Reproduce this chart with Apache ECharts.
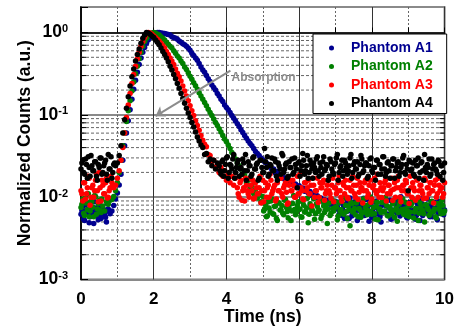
<!DOCTYPE html>
<html>
<head>
<meta charset="utf-8">
<script src="https://cdn.jsdelivr.net/npm/echarts@6/dist/echarts.min.js"></script>
<style>
html,body{margin:0;padding:0;background:#fff;}
#chart{width:457px;height:334px;}
</style>
</head>
<body>
<div id="chart"></div>
<script>
// ---- data (time in ns, normalized counts) ----
const times = [
0,0.05,0.1,0.15,0.2,0.25,0.3,0.35,0.4,0.45,0.5,0.55,0.6,0.65,0.7,0.75,0.8,0.85,0.9,0.95,
1,1.05,1.1,1.15,1.2,1.25,1.3,1.35,1.4,1.45,1.5,1.55,1.6,1.65,1.7,1.75,1.8,1.85,1.9,1.95,
2,2.05,2.1,2.15,2.2,2.25,2.3,2.35,2.4,2.45,2.5,2.55,2.6,2.65,2.7,2.75,2.8,2.85,2.9,2.95,
3,3.05,3.1,3.15,3.2,3.25,3.3,3.35,3.4,3.45,3.5,3.55,3.6,3.65,3.7,3.75,3.8,3.85,3.9,3.95,
4,4.05,4.1,4.15,4.2,4.25,4.3,4.35,4.4,4.45,4.5,4.55,4.6,4.65,4.7,4.75,4.8,4.85,4.9,4.95,
5,5.05,5.1,5.15,5.2,5.25,5.3,5.35,5.4,5.45,5.5,5.55,5.6,5.65,5.7,5.75,5.8,5.85,5.9,5.95,
6,6.05,6.1,6.15,6.2,6.25,6.3,6.35,6.4,6.45,6.5,6.55,6.6,6.65,6.7,6.75,6.8,6.85,6.9,6.95,
7,7.05,7.1,7.15,7.2,7.25,7.3,7.35,7.4,7.45,7.5,7.55,7.6,7.65,7.7,7.75,7.8,7.85,7.9,7.95,
8,8.05,8.1,8.15,8.2,8.25,8.3,8.35,8.4,8.45,8.5,8.55,8.6,8.65,8.7,8.75,8.8,8.85,8.9,8.95,
9,9.05,9.1,9.15,9.2,9.25,9.3,9.35,9.4,9.45,9.5,9.55,9.6,9.65,9.7,9.75,9.8,9.85,9.9,9.95,
10];

// interleaved channels (background-only readings; skipped where the curve is already covered)
const timesMid = [
0.025,0.075,0.125,0.175,0.225,0.275,0.325,0.375,0.425,0.475,0.525,0.575,0.625,0.675,0.725,0.775,0.825,0.875,0.925,0.975,
1.025,1.075,1.125,1.175,1.225,1.275,1.325,1.375,1.425,1.475,1.525,1.575,1.625,1.675,1.725,1.775,1.825,1.875,1.925,1.975,
2.025,2.075,2.125,2.175,2.225,2.275,2.325,2.375,2.425,2.475,2.525,2.575,2.625,2.675,2.725,2.775,2.825,2.875,2.925,2.975,
3.025,3.075,3.125,3.175,3.225,3.275,3.325,3.375,3.425,3.475,3.525,3.575,3.625,3.675,3.725,3.775,3.825,3.875,3.925,3.975,
4.025,4.075,4.125,4.175,4.225,4.275,4.325,4.375,4.425,4.475,4.525,4.575,4.625,4.675,4.725,4.775,4.825,4.875,4.925,4.975,
5.025,5.075,5.125,5.175,5.225,5.275,5.325,5.375,5.425,5.475,5.525,5.575,5.625,5.675,5.725,5.775,5.825,5.875,5.925,5.975,
6.025,6.075,6.125,6.175,6.225,6.275,6.325,6.375,6.425,6.475,6.525,6.575,6.625,6.675,6.725,6.775,6.825,6.875,6.925,6.975,
7.025,7.075,7.125,7.175,7.225,7.275,7.325,7.375,7.425,7.475,7.525,7.575,7.625,7.675,7.725,7.775,7.825,7.875,7.925,7.975,
8.025,8.075,8.125,8.175,8.225,8.275,8.325,8.375,8.425,8.475,8.525,8.575,8.625,8.675,8.725,8.775,8.825,8.875,8.925,8.975,
9.025,9.075,9.125,9.175,9.225,9.275,9.325,9.375,9.425,9.475,9.525,9.575,9.625,9.675,9.725,9.775,9.825,9.875,9.925,9.975];

const phantomA1 = [
0.0062,0.0078,0.0052,0.0070,0.0085,0.0058,0.0066,0.0048,0.0074,0.0060,0.0081,0.0055,0.0068,0.0063,0.0050,0.0072,
0.0063,0.0068,0.0079,0.0095,0.0112,0.0141,0.019,0.028,0.042,0.06,0.085,0.115,0.155,0.204,0.263,0.33,0.41,0.49,0.575,0.66,
0.74,0.81,0.87,0.93,0.965,0.99,1.0,1.0,0.99,0.98,0.975,0.96,0.945,0.93,0.89,0.87,0.85,0.83,0.79,0.76,
0.73,0.71,0.68,0.65,0.61,0.56,0.525,0.49,0.46,0.42,0.38,0.35,0.33,0.30,0.275,0.255,0.23,0.215,0.2,0.182,
0.17,0.155,0.145,0.132,0.123,0.115,0.107,0.098,0.091,0.084,0.078,0.072,0.066,0.061,0.056,0.052,0.048,0.045,0.042,0.039,
0.036,0.034,0.032,0.030,0.0285,0.027,0.026,0.0235,0.024,0.0215,0.022,0.0195,0.0205,0.0178,0.0188,0.0168,0.0172,0.0158,0.0162,0.0149,
0.0152,0.0139,0.0145,0.0133,0.0138,0.0124,0.0129,0.0118,0.012,0.0112,0.0117,0.0105,0.011,0.0099,0.0104,0.0094,0.0098,0.0089,0.0093,0.0085,
0.0091,0.0082,0.0088,0.0079,0.0089,
0.0076,0.0062,0.0090,0.0070,0.0055,0.0083,0.0068,0.0098,0.0059,0.0079,
0.0072,0.0052,0.0086,0.0065,0.0077,0.0060,0.0094,0.0069,0.0081,0.0057,
0.0074,0.0088,0.0063,0.0071,0.0050,0.0084,0.0067,0.0078,0.0061,0.0092,
0.0070,0.0056,0.0082,0.0066,0.0075,0.0101,0.0064,0.0080,0.0058,0.0073,
0.0087,0.0062,0.0069,0.0054,0.0083,0.0071,0.0095,0.0060,0.0077,0.0066,
0.0079,0.0058,0.0085,0.0068,0.0074,0.0053,0.0089,0.0065,0.0076,0.0070];

const phantomA2 = [
0.0075,0.0095,0.006,0.0085,0.011,0.0068,0.0088,0.0058,0.0102,0.0072,0.0092,0.0065,
0.0078,0.0068,0.0088,0.0082,0.0092,0.0094,0.0102,0.012,0.0151,0.02,0.028,0.042,0.06,0.083,0.112,0.148,0.195,0.25,
0.316,0.39,0.48,0.575,0.68,0.78,0.85,0.91,0.955,0.99,1.0,0.99,0.955,0.93,0.89,0.85,0.81,0.76,0.72,0.68,
0.65,0.6,0.56,0.52,0.49,0.45,0.42,0.38,0.355,0.325,0.295,0.27,0.245,0.225,0.204,0.186,0.17,0.155,0.141,0.129,
0.117,0.107,0.098,0.089,0.081,0.074,0.068,0.062,0.056,0.051,0.047,0.043,0.039,0.035,0.032,0.029,0.026,0.024,0.022,0.019,
0.0185,0.015,0.016,0.0128,0.014,0.011,0.0125,0.0098,0.011,0.0088,0.0102,
0.0072,0.0058,0.0088,0.0066,0.0095,0.0062,0.0078,0.0052,0.0085,0.0070,
0.0064,0.0092,0.0075,0.0056,0.0082,0.0068,0.0105,0.0061,0.0079,0.0071,
0.0058,0.0087,0.0066,0.0074,0.0049,0.0083,0.0069,0.0096,0.0063,0.0077,
0.0070,0.0055,0.0089,0.0065,0.0081,0.0072,0.0060,0.0093,0.0068,0.0076,
0.0053,0.0086,0.0071,0.0064,0.0098,0.0067,0.0078,0.0045,0.0083,0.0070,
0.0061,0.0090,0.0073,0.0057,0.0084,0.0066,0.0079,0.0069,0.0101,0.0062,
0.0075,0.0054,0.0087,0.0071,0.0065,0.0093,0.0068,0.0080,0.0059,0.0074,
0.0063,0.0088,0.0070,0.0051,0.0082,0.0067,0.0095,0.0072,0.0060,0.0078,
0.0066,0.0085,0.0056,0.0073,0.0091,0.0064,0.0077,0.0069,0.0050,0.0081,
0.0071,0.0062,0.0089,0.0067,0.0058,0.0084,0.0074,0.0063,0.0079,0.0068];

const phantomA3 = [
0.012,0.009,0.015,0.011,0.018,0.008,0.013,0.010,0.016,0.012,0.020,0.009,0.014,0.011,0.017,0.010,0.013,0.015,
0.013,0.014,0.017,0.021,0.028,0.04,0.06,0.093,0.132,0.182,0.24,0.31,0.39,0.48,0.575,0.68,0.78,0.87,0.955,1.0,
0.99,0.955,0.91,0.87,0.83,0.79,0.74,0.69,0.65,0.59,0.54,0.49,0.45,0.41,0.36,0.32,0.29,0.257,0.224,0.195,
0.17,0.148,0.129,0.112,0.098,0.085,0.074,0.065,0.056,0.049,0.044,0.041,0.033,0.032,0.027,0.028,0.023,0.024,0.020,0.023,
0.018,0.021,0.016,0.019,0.015,0.018,0.014,0.017,
0.013,0.010,0.016,0.012,0.009,0.014,0.011,0.017,0.012,0.0095,
0.015,0.011,0.013,0.0085,0.016,0.012,0.010,0.014,0.019,0.011,
0.013,0.009,0.015,0.012,0.017,0.010,0.014,0.0115,0.0085,0.016,
0.012,0.014,0.010,0.018,0.011,0.013,0.0095,0.015,0.012,0.016,
0.011,0.0078,0.014,0.012,0.017,0.010,0.013,0.015,0.0092,0.012,
0.016,0.011,0.014,0.0088,0.013,0.012,0.018,0.010,0.015,0.011,
0.013,0.0096,0.016,0.012,0.014,0.010,0.017,0.0115,0.013,0.0085,
0.015,0.012,0.011,0.016,0.0095,0.014,0.012,0.019,0.010,0.013,
0.012,0.015,0.009,0.014,0.011,0.017,0.0125,0.010,0.016,0.013,
0.0088,0.014,0.012,0.015,0.011,0.018,0.010,0.013,0.0092,0.016,
0.012,0.014,0.011,0.017,0.0098,0.013,0.015,0.012,0.0085,0.016,
0.011,0.014,0.013,0.010,0.015];

const phantomA4 = [
0.022,0.028,0.019,0.025,0.031,0.018,0.024,0.021,0.027,0.016,0.023,0.030,0.020,0.026,0.019,0.033,0.022,0.017,0.025,
0.024,0.026,0.032,0.042,0.06,0.087,0.12,0.166,0.224,0.29,0.36,0.45,0.54,0.63,0.74,0.85,0.93,1.0,0.99,0.955,
0.91,0.87,0.81,0.76,0.71,0.65,0.59,0.54,0.49,0.44,0.39,0.35,0.31,0.275,0.24,0.21,0.182,0.158,0.138,0.12,
0.105,0.093,0.081,0.071,0.062,0.054,0.048,0.043,0.040,0.033,0.034,0.027,0.029,0.024,0.028,0.022,0.026,
0.024,0.019,0.028,0.021,0.030,0.017,0.025,0.022,0.033,0.020,
0.026,0.018,0.023,0.029,0.021,0.016,0.027,0.024,0.019,0.031,
0.022,0.026,0.017,0.028,0.020,0.039,0.023,0.018,0.025,0.030,
0.021,0.027,0.016,0.024,0.019,0.032,0.022,0.026,0.018,0.023,
0.029,0.020,0.025,0.013,0.027,0.021,0.034,0.019,0.024,0.017,
0.028,0.022,0.026,0.020,0.031,0.018,0.023,0.027,0.021,0.025,
0.016,0.029,0.022,0.019,0.026,0.033,0.020,0.024,0.018,0.028,
0.023,0.021,0.030,0.017,0.025,0.022,0.027,0.019,0.032,0.020,
0.024,0.026,0.018,0.029,0.021,0.023,0.016,0.028,0.025,0.019,
0.031,0.022,0.020,0.027,0.017,0.024,0.029,0.021,0.026,0.018,
0.023,0.030,0.020,0.025,0.012,0.027,0.022,0.019,0.028,0.024,
0.017,0.026,0.021,0.033,0.020,0.023,0.018,0.029,0.025,0.022,
0.019,0.027,0.024,0.016,0.026];

// background readings at the interleaved channels: [early part], [number of curve channels skipped], [late part]
const phantomA1MidEarly = [0.0069,0.0054,0.0081,0.0064,0.0049,0.0076,0.0059,0.0088,0.0066,0.0053,0.0079,0.0062,0.0071,0.0057,0.0083,0.0067];
const phantomA1MidSkip = 125;
const phantomA1MidLate = [
0.0071,0.0085,0.0060,0.0078,0.0066,0.0093,0.0055,0.0074,0.0063,0.0088,
0.0069,0.0080,0.0057,0.0072,0.0097,0.0064,0.0076,0.0051,0.0082,0.0068,
0.0061,0.0090,0.0073,0.0058,0.0079,0.0067,0.0086,0.0062,0.0075,0.0054,
0.0084,0.0070,0.0065,0.0092,0.0059,0.0077,0.0068,0.0081,0.0056,0.0073,
0.0063,0.0089,0.0071,0.0060,0.0078,0.0052,0.0083,0.0067,0.0074,0.0095,
0.0062,0.0076,0.0058,0.0087,0.0069,0.0064,0.0080,0.0072,0.0061];

const phantomA2MidEarly = [0.0082,0.0064,0.0098,0.0071,0.0058,0.0090,0.0076,0.0105,0.0062,0.0084,0.0069,0.0095];
const phantomA2MidSkip = 88;
const phantomA2MidLate = [
0.0068,0.0081,0.0059,0.0074,0.0090,0.0063,0.0077,0.0055,0.0086,0.0070,
0.0079,0.0061,0.0094,0.0067,0.0073,0.0052,0.0084,0.0071,0.0065,0.0088,
0.0072,0.0057,0.0080,0.0066,0.0097,0.0062,0.0075,0.0069,0.0054,0.0083,
0.0067,0.0091,0.0060,0.0078,0.0070,0.0048,0.0085,0.0064,0.0073,0.0089,
0.0076,0.0059,0.0068,0.0093,0.0062,0.0080,0.0055,0.0071,0.0087,0.0066,
0.0073,0.0085,0.0058,0.0070,0.0064,0.0096,0.0075,0.0061,0.0082,0.0067,
0.0090,0.0063,0.0078,0.0053,0.0072,0.0086,0.0066,0.0099,0.0060,0.0076,
0.0069,0.0083,0.0057,0.0074,0.0065,0.0092,0.0071,0.0062,0.0087,0.0068,
0.0058,0.0079,0.0094,0.0066,0.0073,0.0052,0.0085,0.0070,0.0063,0.0081,
0.0075,0.0060,0.0088,0.0067,0.0072,0.0056,0.0083,0.0069,0.0091,0.0064];

const phantomA3MidEarly = [0.011,0.015,0.0095,0.013,0.017,0.010,0.014,0.012,0.019,0.0088,0.013,0.016,0.011,0.015,0.0098,0.012,0.018,0.014];
const phantomA3MidSkip = 68;
const phantomA3MidLate = [
0.011,0.015,0.0092,0.013,0.017,0.012,0.010,0.014,0.016,0.0098,
0.013,0.011,0.018,0.012,0.0088,0.015,0.013,0.010,0.016,0.012,
0.014,0.0095,0.012,0.017,0.011,0.013,0.015,0.0082,0.014,0.012,
0.016,0.010,0.013,0.011,0.019,0.012,0.0093,0.015,0.013,0.011,
0.014,0.017,0.010,0.012,0.0086,0.015,0.013,0.016,0.011,0.014,
0.012,0.0097,0.017,0.013,0.011,0.015,0.012,0.0089,0.014,0.016,
0.010,0.013,0.012,0.018,0.011,0.014,0.0094,0.015,0.013,0.012,
0.016,0.010,0.014,0.0087,0.013,0.017,0.011,0.012,0.015,0.0099,
0.013,0.016,0.011,0.014,0.012,0.0091,0.015,0.013,0.018,0.010,
0.012,0.014,0.016,0.011,0.0084,0.013,0.015,0.012,0.017,0.010,
0.014,0.012,0.0096,0.016,0.013,0.011,0.015,0.012,0.014,0.010,
0.017,0.012,0.013,0.011];

const phantomA4MidEarly = [0.026,0.020,0.029,0.017,0.023,0.032,0.021,0.027,0.018,0.025,0.030,0.019,0.024,0.028,0.016,0.022,0.031,0.020,0.026];
const phantomA4MidSkip = 57;
const phantomA4MidLate = [
0.021,0.027,0.018,0.025,0.031,0.020,0.024,0.029,0.017,0.023,
0.028,0.022,0.019,0.026,0.033,0.021,0.024,0.018,0.030,0.022,
0.025,0.016,0.028,0.023,0.020,0.027,0.031,0.019,0.024,0.021,
0.029,0.018,0.026,0.022,0.034,0.020,0.025,0.017,0.027,0.023,
0.019,0.030,0.022,0.026,0.018,0.024,0.028,0.021,0.032,0.020,
0.025,0.017,0.023,0.029,0.021,0.026,0.019,0.031,0.022,0.024,
0.018,0.027,0.020,0.025,0.030,0.016,0.023,0.028,0.021,0.026,
0.019,0.024,0.033,0.020,0.027,0.022,0.018,0.025,0.029,0.021,
0.026,0.017,0.024,0.030,0.020,0.023,0.028,0.019,0.025,0.022,
0.031,0.018,0.026,0.021,0.024,0.029,0.017,0.023,0.027,0.020,
0.025,0.032,0.019,0.022,0.028,0.021,0.026,0.018,0.024,0.030,
0.020,0.027,0.016,0.023,0.025,0.029,0.019,0.022,0.026,0.021,
0.028,0.018,0.024,0.020];

const seriesNames = ['Phantom A1','Phantom A2','Phantom A3','Phantom A4'];
const seriesValues = [phantomA1, phantomA2, phantomA3, phantomA4];
const seriesMid = [
  [phantomA1MidEarly, phantomA1MidSkip, phantomA1MidLate],
  [phantomA2MidEarly, phantomA2MidSkip, phantomA2MidLate],
  [phantomA3MidEarly, phantomA3MidSkip, phantomA3MidLate],
  [phantomA4MidEarly, phantomA4MidSkip, phantomA4MidLate]
];
const seriesColors = ['#000090','#008000','#ff0000','#000000'];
const yDecades = [-3,-2,-1,0];          // tick exponents (10^n)
const minorMultipliers = [2,3,4,5,6,7,8,9];
const xTicks = [0,2,4,6,8,10];
const annotationText = 'Absorption';

// ---- chart ----
const FONT = '"Liberation Sans", Arial, Helvetica, sans-serif';
const chart = echarts.init(document.getElementById('chart'), null, {renderer:'canvas'});

const minorLogs = [];
for (let d = -3; d < 0; d++) {
  minorMultipliers.forEach(m => minorLogs.push([0, Math.log10(m * Math.pow(10, d))]));
}

function buildPoints(k) {
  const pts = times.map((t, i) => [t, Math.log10(seriesValues[k][i])]);
  const [early, skip, late] = seriesMid[k];
  early.forEach((v, j) => pts.push([timesMid[j], Math.log10(v)]));
  late.forEach((v, j) => pts.push([timesMid[early.length + skip + j], Math.log10(v)]));
  return pts;
}

const scatterSeries = seriesNames.map((name, k) => ({
  type: 'scatter',
  name: name,
  data: buildPoints(k),
  symbol: 'circle',
  symbolSize: 5.5,
  itemStyle: {color: seriesColors[k], opacity: 1},
  silent: true,
  z: 2,
  animation: false
}));

const option = {
  animation: false,
  backgroundColor: '#fff',
  textStyle: {fontFamily: FONT},
  grid: {left: 81, right: 7, top: 7, bottom: 54.5, show: true, borderColor: '#000', borderWidth: 1.5, backgroundColor: '#fff'},
  xAxis: {
    type: 'value', min: xTicks[0], max: xTicks[xTicks.length-1], interval: 2,
    axisLine: {show: true, lineStyle: {color: '#000', width: 1.5}},
    axisTick: {show: true, inside: true, length: 5, lineStyle: {color: '#000'}},
    minorTick: {show: true, splitNumber: 2, length: 5, lineStyle: {color: '#000'}},
    axisLabel: {margin: 11, fontSize: 17, fontWeight: 'bold', color: '#000', fontFamily: FONT},
    splitLine: {show: true, lineStyle: {color: '#333', width: 1}},
    minorSplitLine: {show: true, lineStyle: {color: '#666', width: 1, type: [2, 2]}},
    name: 'Time (ns)', nameLocation: 'middle', nameGap: 29, nameMoveOverlap: false,
    nameTextStyle: {fontSize: 17.5, fontWeight: 'bold', color: '#000', fontFamily: FONT}
  },
  yAxis: {
    type: 'value', min: yDecades[0], max: 0.31, interval: 1,
    axisLine: {show: true, lineStyle: {color: '#000', width: 1.5}},
    axisTick: {show: true, inside: true, length: 7, lineStyle: {color: '#000'}},
    axisLabel: {
      margin: 13,
      formatter: v => (Number.isInteger(v) && yDecades.indexOf(v) >= 0) ? '{b|10}{s|' + v + '}' : '',
      rich: {
        b: {fontSize: 17.5, fontWeight: 'bold', color: '#000', fontFamily: FONT},
        s: {fontSize: 11, fontWeight: 'bold', color: '#000', fontFamily: FONT, verticalAlign: 'top'}
      }
    },
    splitLine: {show: true, lineStyle: {color: '#8a8a8a', width: 2}},
    name: 'Normalized Counts (a.u.)', nameLocation: 'middle', nameGap: 47, nameMoveOverlap: false,
    nameTextStyle: {fontSize: 17.5, fontWeight: 'bold', color: '#000', fontFamily: FONT}
  },
  legend: {
    orient: 'vertical', left: 313, top: 34,
    padding: [7, 14, 3, 16],
    itemWidth: 29, itemHeight: 5, itemGap: 4.5,
    icon: 'circle',
    backgroundColor: '#fff', borderColor: '#000', borderWidth: 1,
    selectedMode: false,
    textStyle: {fontSize: 14, fontWeight: 'bold', fontFamily: FONT},
    data: seriesNames.map((n, k) => ({name: n, textStyle: {color: seriesColors[k]}}))
  },
  series: [
    {
      type: 'custom', name: 'minorGrid', silent: true, z: 1,
      data: minorLogs,
      encode: {x: 0, y: 1},
      renderItem: (params, api) => {
        const v = api.value(1);
        const p0 = api.coord([0, v]);
        const p1 = api.coord([10, v]);
        return {type: 'group', children: [
          {type: 'line', shape: {x1: p0[0], y1: p0[1], x2: p1[0], y2: p1[1]}, style: {stroke: '#666', lineWidth: 1, lineDash: [3, 2]}},
          {type: 'line', shape: {x1: p0[0], y1: p0[1], x2: p0[0] + 5, y2: p0[1]}, style: {stroke: '#000', lineWidth: 1}},
          {type: 'line', shape: {x1: p1[0] - 5, y1: p1[1], x2: p1[0], y2: p1[1]}, style: {stroke: '#000', lineWidth: 1}}
        ]};
      }
    },
    ...scatterSeries,
    {
      type: 'line', name: 'annotation', data: [], z: 6, silent: true,
      markLine: {
        silent: true, animation: false,
        symbol: ['none', 'arrow'], symbolSize: 9,
        lineStyle: {color: '#8c8c8c', width: 2, type: 'solid'},
        label: {show: false},
        data: [[{coord: [4.11, -0.463]}, {coord: [2.05, -1.016]}]]
      },
      markPoint: {
        silent: true, animation: false,
        symbol: 'circle', symbolSize: 0,
        label: {show: true, position: 'inside', formatter: annotationText, color: '#8c8c8c', fontSize: 12, fontWeight: 'bold', fontFamily: FONT},
        data: [{coord: [5.02, -0.545]}]
      }
    }
  ]
};
chart.setOption(option);
</script>
</body>
</html>
